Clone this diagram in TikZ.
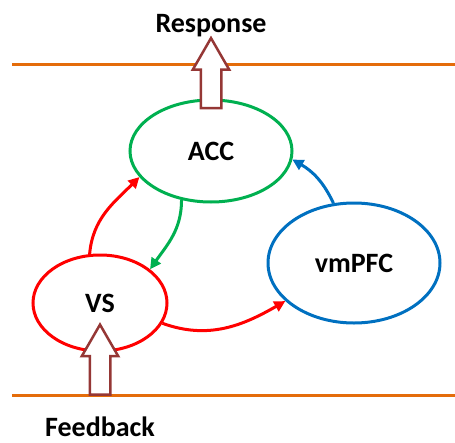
\documentclass[tikz,border=0pt]{standalone}
\usepackage{fontspec}
\setmainfont{Carlito}
\usetikzlibrary{arrows.meta, shapes.geometric, shapes.arrows}
\definecolor{ruleorange}{HTML}{E46C0A}
\definecolor{accgreen}{HTML}{00B050}
\definecolor{vsred}{HTML}{FF0000}
\definecolor{pfcblue}{HTML}{0070C0}
\definecolor{ioarrow}{HTML}{953735}

\begin{document}
\begin{tikzpicture}[
		x=1pt, y=-1pt,
		>={Triangle[length=11pt, width=11pt]},
		region/.style={draw, ellipse, line width=3pt, inner sep=0pt, font=\fontsize{28}{32}\selectfont\bfseries},
		label/.style={anchor=base, font=\fontsize{28}{32}\selectfont\bfseries},
		link/.style={->, line width=3pt},
		rule/.style={draw=ruleorange, line width=3pt},
		ioarrow/.style={draw=ioarrow, fill=white, line width=2.5pt, single arrow, rotate=90, inner sep=0pt, minimum height=70pt, single arrow head extend=8pt, single arrow tip angle=60},
	]
	\useasboundingbox (0, 0) rectangle (455, 442);
	\draw[rule] (12, 64) -- (455, 64);
	\draw[rule] (12, 395) -- (455, 395);

	\node[region, draw=accgreen, minimum width=162pt, minimum height=102pt] (acc) at (211, 151) {ACC};
	\node[region, draw=vsred, minimum width=134pt, minimum height=96pt] (vs) at (100, 303) {VS};
	\node[region, draw=pfcblue, minimum width=172pt, minimum height=120pt] (vmpfc) at (354, 263) {vmPFC};

	\node[ioarrow] (response_arrow) at (211, 82) {\rule{0pt}{18pt}};
	\node[ioarrow] (feedback_arrow) at (100, 368.5) {\rule{0pt}{18pt}};
	\node[label] (response) at (211, 32) {Response};
	\node[label] (feedback) at (100, 436) {Feedback};

	\draw[link, vsred] (vs.102) to[out=85, in=225] (acc.200);
	\draw[link, accgreen] (acc.239) to[out=270, in=55] (vs.34);
	\draw[link, pfcblue] (vmpfc.109) to[out=115, in=-30] (acc.354);
	\draw[link, vsred] (vs.342) to[out=-20, in=210] (vmpfc.209);
\end{tikzpicture}
\end{document}
